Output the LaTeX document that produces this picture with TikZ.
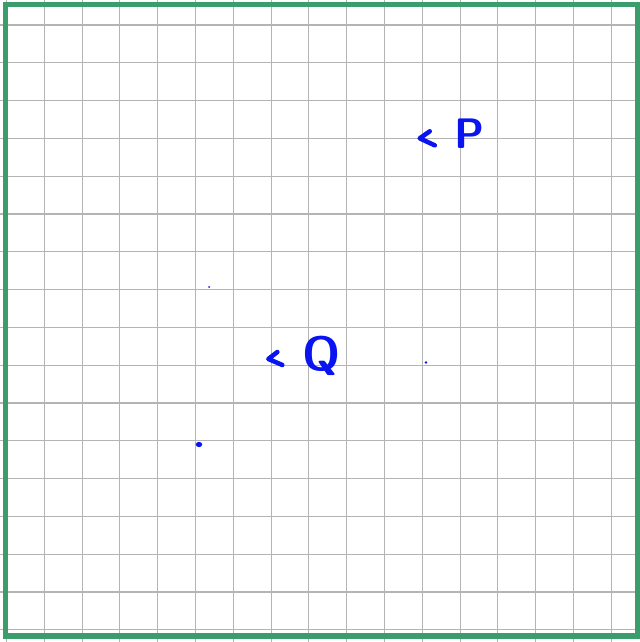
\documentclass[tikz,border=0pt]{standalone}
\usepackage{xcolor}
\usepackage{tikz}
\usetikzlibrary{calc,positioning}
\definecolor{frame}{HTML}{3A9D6B}
\definecolor{gridgray}{HTML}{B4B4B4}
\definecolor{ink}{HTML}{0A14F0}
\tikzset{
  font=\sffamily,
  gridline/.style={draw=gridgray, line width=0.8pt},
  border/.style={draw=frame, line width=4pt},
  pointlabel/.style={text=ink, font=\sffamily\bfseries\fontsize{32}{32}\selectfont, inner sep=0pt},
  chevron/.style={draw=ink, line width=3.4pt, line cap=round, line join=round},
  dot/.style={fill=ink, draw=none}
}
\begin{document}
\begin{tikzpicture}[x=0.75pt,y=-0.75pt]
  \useasboundingbox (0,0) rectangle (639,642);
  \fill[white] (0,0) rectangle (639,642);

  % 1cm grid
  \foreach \gx in {0,...,16} {
    \draw[gridline] ({6.5+37.8*\gx},0) -- ++(0,642);
  }
  \foreach \gy in {1,...,17} {
    \draw[gridline] (0,{-12.8+37.8*\gy}) -- ++(639,0);
  }
  \draw[border] (5.5,4.5) rectangle (637.5,636);

  % labelled points
  \node[pointlabel] (P) at (469,134) {P};
  \node[pointlabel, font=\sffamily\bfseries\fontsize{36}{36}\selectfont] (Q) at (322,356) {Q};
  \draw[chevron] ([xshift=-18,yshift=2]P.west) -- ++(-10,7) -- ++(15,7);
  \draw[chevron] ([xshift=-19,yshift=3]Q.west) -- ++(-9,7) -- ++(14,6);

  \fill[dot] (209,287) circle (1);
  \fill[dot] (426,362.5) circle (1.3);
  \fill[dot] (199,444.5) ellipse (3.2 and 2.6);
\end{tikzpicture}
\end{document}
